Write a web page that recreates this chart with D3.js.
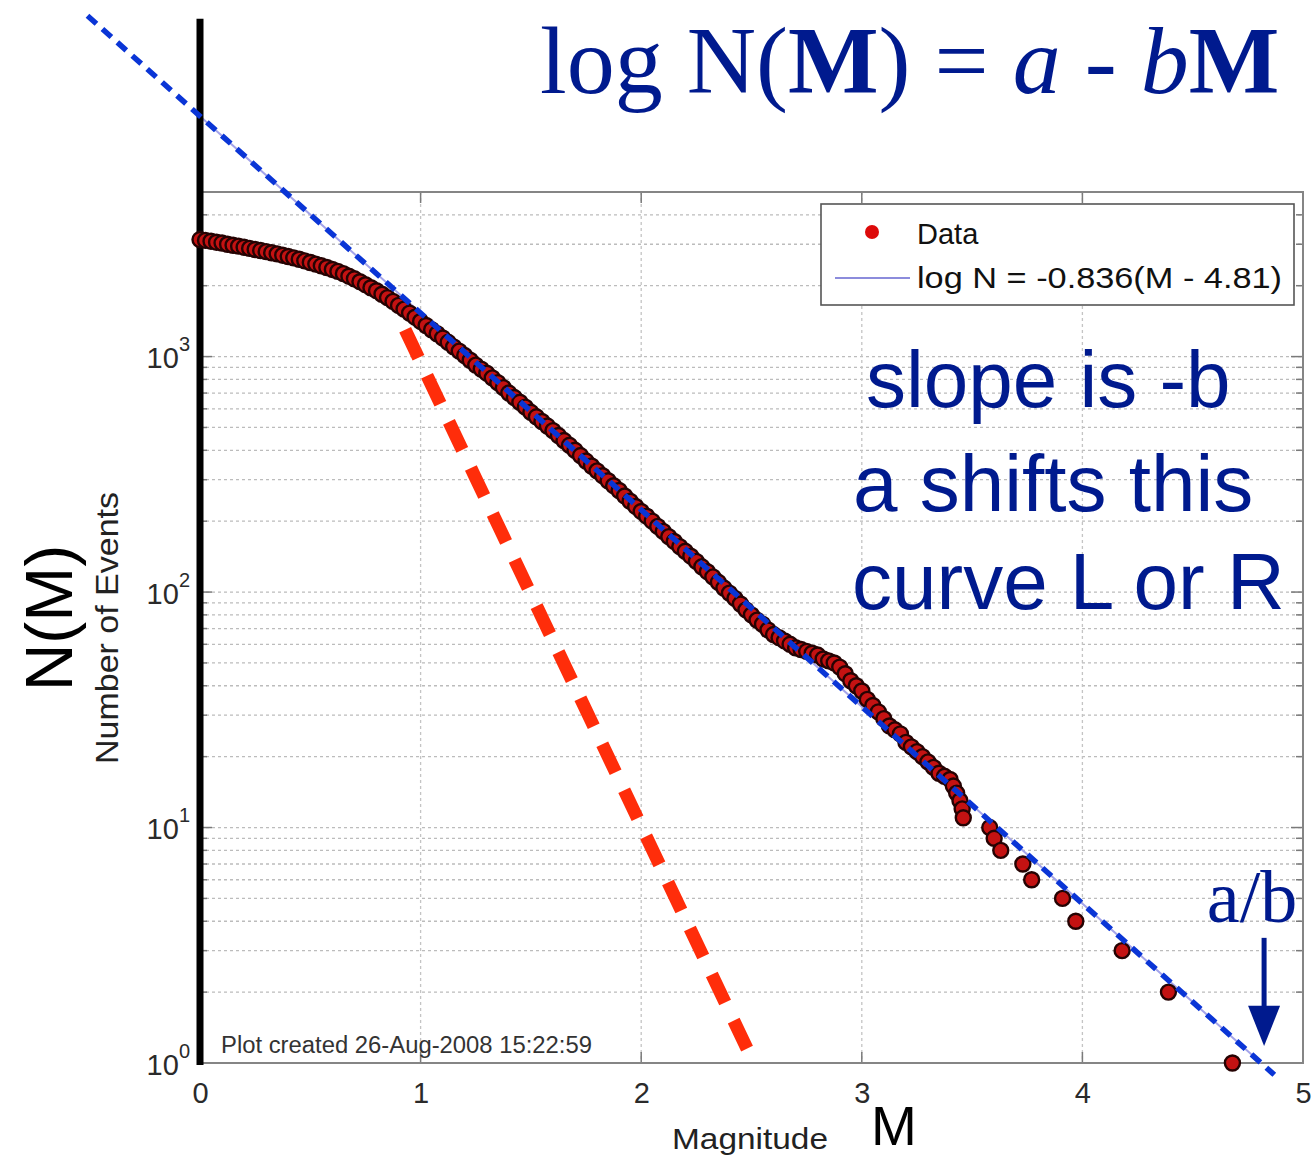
<!DOCTYPE html>
<html>
<head>
<meta charset="utf-8">
<script src="https://cdn.jsdelivr.net/npm/d3@7"></script>
<style>
  body { margin: 0; background: #fff; }
</style>
</head>
<body>
<div id="chart-area"></div>
<script>
// magnitude bins and cumulative number of events
const magnitudes = [
    0.000, 0.025, 0.050, 0.075, 0.100, 0.125, 0.150, 0.175, 0.200, 0.225,
    0.250, 0.275, 0.300, 0.325, 0.350, 0.375, 0.400, 0.425, 0.450, 0.475,
    0.500, 0.525, 0.550, 0.575, 0.600, 0.625, 0.650, 0.675, 0.700, 0.725,
    0.750, 0.775, 0.800, 0.825, 0.850, 0.875, 0.900, 0.925, 0.950, 0.975,
    1.000, 1.025, 1.050, 1.075, 1.100, 1.125, 1.150, 1.175, 1.200, 1.225,
    1.250, 1.275, 1.300, 1.325, 1.350, 1.375, 1.400, 1.425, 1.450, 1.475,
    1.500, 1.525, 1.550, 1.575, 1.600, 1.625, 1.650, 1.675, 1.700, 1.725,
    1.750, 1.775, 1.800, 1.825, 1.850, 1.875, 1.900, 1.925, 1.950, 1.975,
    2.000, 2.025, 2.050, 2.075, 2.100, 2.125, 2.150, 2.175, 2.200, 2.225,
    2.250, 2.275, 2.300, 2.325, 2.350, 2.375, 2.400, 2.425, 2.450, 2.475,
    2.500, 2.525, 2.550, 2.575, 2.600, 2.625, 2.650, 2.675, 2.700, 2.725,
    2.750, 2.775, 2.800, 2.825, 2.850, 2.875, 2.900, 2.925, 2.950, 2.975,
    3.000, 3.025, 3.050, 3.075, 3.100, 3.125, 3.150, 3.175, 3.200, 3.225,
    3.250, 3.275, 3.300, 3.325, 3.350, 3.375, 3.400, 3.415, 3.430, 3.445,
    3.455, 3.460, 3.580, 3.600, 3.630, 3.730, 3.770, 3.910, 3.970, 4.180,
    4.390, 4.680];
const counts = [
    3140, 3115, 3090, 3060, 3035, 3000, 2970, 2945, 2915, 2880,
    2850, 2820, 2790, 2760, 2730, 2695, 2660, 2625, 2590, 2550,
    2510, 2470, 2430, 2390, 2345, 2300, 2250, 2195, 2140, 2080,
    2020, 1960, 1905, 1840, 1780, 1715, 1650, 1590, 1530, 1470,
    1410, 1355, 1300, 1250, 1200, 1150, 1100, 1055, 1010, 965,
    920, 885, 850, 812, 775, 738, 700, 670, 640, 610,
    580, 555, 530, 507, 485, 462, 440, 420, 400, 380,
    360, 343, 327, 312, 297, 283, 270, 256, 243, 231,
    220, 210, 200, 190, 181, 172, 164, 156, 149, 142,
    135, 128, 122, 116, 110, 104, 99, 94, 89, 84,
    80, 76, 73, 69, 66, 64, 62, 60, 58, 57,
    56, 55, 54, 52, 51, 50, 48, 45, 42, 40,
    38, 35, 33, 31, 29, 27, 26, 25, 23, 22,
    21, 20, 19, 18, 17, 16.5, 16, 15, 14, 13,
    12, 11, 10, 9, 8, 7, 6, 5, 4, 3,
    2, 1];

// fit: log N = slope * (M - a/b)
const fit = [-0.836, 4.81];
const fitRange = [-0.51, 4.87];
// steeper (red) comparison line, [M, N]
const steepLine = [[0.93, 1300], [2.5, 1.05]];
const xTicks = [0, 1, 2, 3, 4, 5];
const yDecades = [1, 10, 100, 1000];

const width = 1313;
const height = 1158;
const plot = {left: 200, right: 1303, top: 192, bottom: 1063};

const navy = "#001a8e";
const sans = "'Liberation Sans', Arial, Helvetica, sans-serif";
const serif = "'Liberation Serif', 'Times New Roman', serif";

const svg = d3.select("#chart-area")
    .append("svg")
    .attr("width", width)
    .attr("height", height);

svg.append("rect")
    .attr("width", width)
    .attr("height", height)
    .attr("fill", "white");

// scales
const x = d3.scaleLinear()
    .domain([0, 5])
    .range([plot.left, plot.right]);

const y = d3.scaleLog()
    .domain([1, 5000])
    .range([plot.bottom, plot.top]);

const fitN = m => Math.pow(10, fit[0] * (m - fit[1]));

// grid
const gridG = svg.append("g");
const yGrid = y.ticks().filter(d => d > 1 && d <= 5000);

gridG.selectAll(".hgrid")
    .data(yGrid)
    .enter().append("line")
    .attr("x1", plot.left)
    .attr("x2", plot.right)
    .attr("y1", d => y(d))
    .attr("y2", d => y(d))
    .attr("stroke", "#bcbcbc")
    .attr("stroke-width", 1.3)
    .attr("stroke-dasharray", "3,3");

gridG.selectAll(".vgrid")
    .data(xTicks.slice(1, -1))
    .enter().append("line")
    .attr("x1", d => x(d))
    .attr("x2", d => x(d))
    .attr("y1", plot.top)
    .attr("y2", plot.bottom)
    .attr("stroke", "#c4c4c4")
    .attr("stroke-width", 1.3)
    .attr("stroke-dasharray", "3,3");

// inward tick marks on all four sides
const tickG = svg.append("g")
    .attr("stroke", "#7a7a7a")
    .attr("stroke-width", 1.5);

y.ticks().filter(d => d >= 1 && d <= 5000).forEach(d => {
    const len = yDecades.includes(d) ? 12 : 7;
    tickG.append("line").attr("x1", plot.left).attr("x2", plot.left + len)
        .attr("y1", y(d)).attr("y2", y(d));
    tickG.append("line").attr("x1", plot.right).attr("x2", plot.right - len)
        .attr("y1", y(d)).attr("y2", y(d));
});
xTicks.forEach(d => {
    tickG.append("line").attr("x1", x(d)).attr("x2", x(d))
        .attr("y1", plot.bottom).attr("y2", plot.bottom - 11);
    tickG.append("line").attr("x1", x(d)).attr("x2", x(d))
        .attr("y1", plot.top).attr("y2", plot.top + 11);
});

// box
svg.append("rect")
    .attr("x", plot.left)
    .attr("y", plot.top)
    .attr("width", plot.right - plot.left)
    .attr("height", plot.bottom - plot.top)
    .attr("fill", "none")
    .attr("stroke", "#858585")
    .attr("stroke-width", 2);

// x axis labels
const xAxis = d3.axisBottom(x)
    .tickValues(xTicks)
    .tickFormat(d3.format("d"))
    .tickSize(0)
    .tickPadding(19);

const xAxisG = svg.append("g")
    .attr("transform", "translate(0," + plot.bottom + ")")
    .call(xAxis);
xAxisG.select(".domain").remove();
xAxisG.selectAll("text")
    .attr("font-family", sans)
    .attr("font-size", 29)
    .attr("fill", "#2a2a2a");

// y axis labels 10^k
const yAxis = d3.axisLeft(y)
    .tickValues(yDecades)
    .tickFormat("")
    .tickSize(0)
    .tickPadding(10);

const yAxisG = svg.append("g")
    .attr("transform", "translate(" + plot.left + ",0)")
    .call(yAxis);
yAxisG.select(".domain").remove();
const yText = yAxisG.selectAll("text")
    .attr("font-family", sans)
    .attr("font-size", 29)
    .attr("fill", "#2a2a2a")
    .attr("dy", "0.38em");
yText.append("tspan").text("10");
yText.append("tspan")
    .attr("font-size", 20)
    .attr("dy", -17)
    .text(d => Math.round(Math.log10(d)));

// axis titles
svg.append("text")
    .attr("transform", "translate(118,628) rotate(-90)")
    .attr("text-anchor", "middle")
    .attr("font-family", sans)
    .attr("font-size", 31)
    .attr("fill", "#222")
    .attr("textLength", 272)
    .attr("lengthAdjust", "spacingAndGlyphs")
    .text("Number of Events");

svg.append("text")
    .attr("x", 750)
    .attr("y", 1149)
    .attr("text-anchor", "middle")
    .attr("font-family", sans)
    .attr("font-size", 30)
    .attr("fill", "#222")
    .attr("textLength", 156)
    .attr("lengthAdjust", "spacingAndGlyphs")
    .text("Magnitude");

svg.append("text")
    .attr("transform", "translate(72,618) rotate(-90)")
    .attr("text-anchor", "middle")
    .attr("font-family", sans)
    .attr("font-size", 66)
    .attr("fill", "black")
    .text("N(M)");

svg.append("text")
    .attr("x", 894)
    .attr("y", 1145)
    .attr("text-anchor", "middle")
    .attr("font-family", sans)
    .attr("font-size", 55)
    .attr("fill", "black")
    .text("M");

svg.append("text")
    .attr("x", 221)
    .attr("y", 1053)
    .attr("font-family", sans)
    .attr("font-size", 23)
    .attr("fill", "#333")
    .attr("textLength", 371)
    .attr("lengthAdjust", "spacingAndGlyphs")
    .text("Plot created 26-Aug-2008 15:22:59");

// thin fit line inside the axes
const line = d3.line()
    .x(d => x(d[0]))
    .y(d => y(d[1]));

svg.append("path")
    .datum([0, fit[1]].map(m => [m, fitN(m)]))
    .attr("d", line)
    .attr("fill", "none")
    .attr("stroke", "#a4a4ea")
    .attr("stroke-width", 2);

// black M = 0 axis
svg.append("line")
    .attr("x1", x(0))
    .attr("x2", x(0))
    .attr("y1", y(fitN(fitRange[0]) * 0.97))
    .attr("y2", plot.bottom + 2)
    .attr("stroke", "black")
    .attr("stroke-width", 7);

// data points
const data = magnitudes.map((m, i) => ({m: m, n: counts[i]}));

svg.append("g")
    .selectAll("circle")
    .data(data)
    .enter().append("circle")
    .attr("cx", d => x(d.m))
    .attr("cy", d => y(d.n))
    .attr("r", 7.5)
    .attr("fill", "#c41212")
    .attr("stroke", "#250303")
    .attr("stroke-width", 2.4);

// red dashed steep line
svg.append("path")
    .datum(steepLine)
    .attr("d", line)
    .attr("fill", "none")
    .attr("stroke", "#ff2d0a")
    .attr("stroke-width", 13)
    .attr("stroke-dasharray", "31,20");

// blue dashed fit line, extends past the axes
svg.append("path")
    .datum(fitRange.map(m => [m, fitN(m)]))
    .attr("d", line)
    .attr("fill", "none")
    .attr("stroke", "#0a35d6")
    .attr("stroke-width", 5.5)
    .attr("stroke-dasharray", "12,8");

// legend
const legend = svg.append("g");
legend.append("rect")
    .attr("x", 821)
    .attr("y", 204)
    .attr("width", 473)
    .attr("height", 101)
    .attr("fill", "white")
    .attr("stroke", "#555")
    .attr("stroke-width", 1.6);
legend.append("circle")
    .attr("cx", 872)
    .attr("cy", 232)
    .attr("r", 7)
    .attr("fill", "#dd0a0a");
legend.append("text")
    .attr("x", 917)
    .attr("y", 244)
    .attr("font-family", sans)
    .attr("font-size", 29)
    .attr("fill", "#111")
    .text("Data");
legend.append("line")
    .attr("x1", 835)
    .attr("x2", 910)
    .attr("y1", 278)
    .attr("y2", 278)
    .attr("stroke", "#8c8cdc")
    .attr("stroke-width", 2);
legend.append("text")
    .attr("x", 917)
    .attr("y", 288)
    .attr("font-family", sans)
    .attr("font-size", 29)
    .attr("fill", "#111")
    .attr("textLength", 365)
    .attr("lengthAdjust", "spacingAndGlyphs")
    .text("log N = " + fit[0] + "(M - " + fit[1] + ")");

// formula title
const title = svg.append("text")
    .attr("x", 540)
    .attr("y", 93)
    .attr("font-family", serif)
    .attr("font-size", 96)
    .attr("fill", navy);
title.append("tspan").text("log N(");
title.append("tspan").attr("font-weight", "bold").text("M");
title.append("tspan").text(") = ");
title.append("tspan").attr("font-style", "italic").text("a");
title.append("tspan").text(" - ");
title.append("tspan").attr("font-style", "italic").text("b");
title.append("tspan").attr("font-weight", "bold").text("M");

// notes
const notes = ["slope is -b", "a shifts this", "curve L or R"];
const noteX = [866, 853, 852];
const noteY = [407, 511, 609];
svg.selectAll(".note")
    .data(notes)
    .enter().append("text")
    .attr("x", (d, i) => noteX[i])
    .attr("y", (d, i) => noteY[i])
    .attr("font-family", sans)
    .attr("font-size", 80)
    .attr("fill", navy)
    .text(d => d);

// a/b marker
svg.append("text")
    .attr("x", 1252)
    .attr("y", 922)
    .attr("text-anchor", "middle")
    .attr("font-family", serif)
    .attr("font-size", 74)
    .attr("fill", navy)
    .text("a/b");

const ax = x(fit[1]) + 3;
svg.append("line")
    .attr("x1", ax)
    .attr("x2", ax)
    .attr("y1", y(3.4))
    .attr("y2", y(1.6))
    .attr("stroke", navy)
    .attr("stroke-width", 5);
svg.append("path")
    .attr("d", "M" + (ax - 16) + "," + y(1.75) + "L" + (ax + 16) + "," + y(1.75) + "L" + ax + "," + y(1.18) + "Z")
    .attr("fill", navy);
</script>
</body>
</html>
